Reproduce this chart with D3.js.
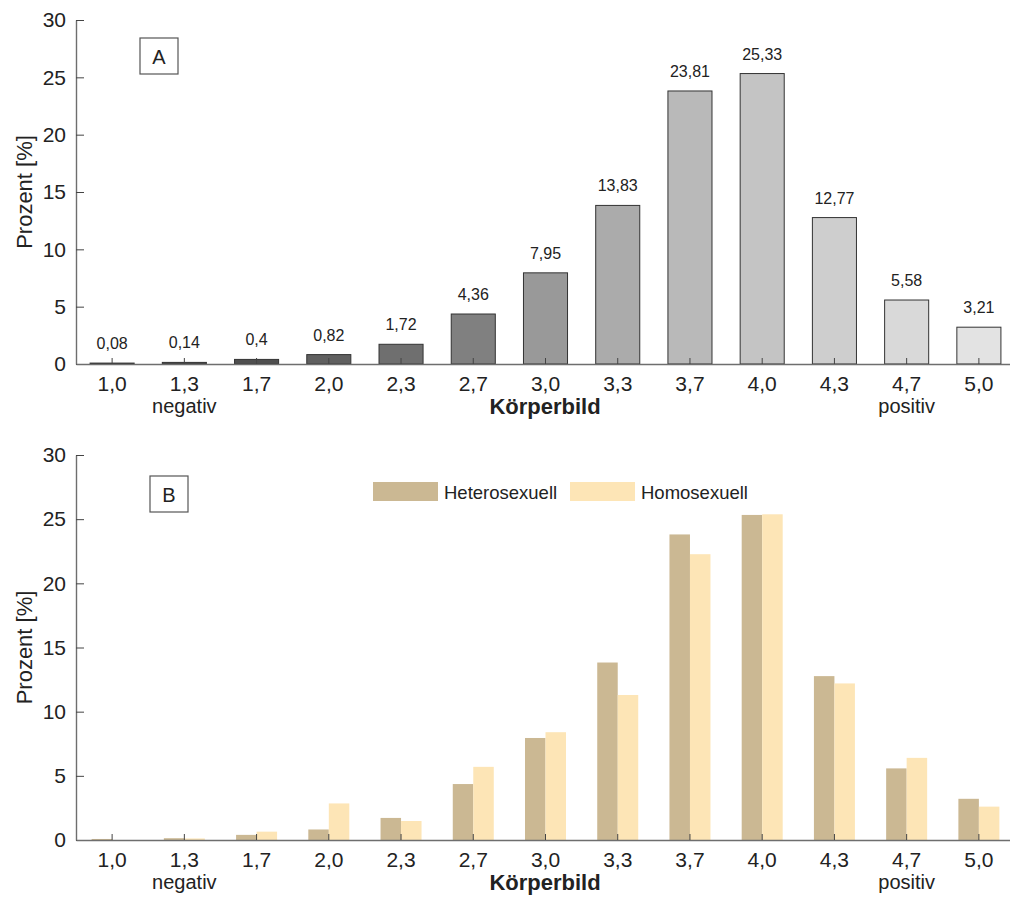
<!DOCTYPE html>
<html>
<head>
<meta charset="utf-8">
<script src="https://cdn.jsdelivr.net/npm/d3@7"></script>
<style>
  body { margin: 0; background: #fff; }
  text { font-family: "Liberation Sans", Arial, sans-serif; fill: #222; }
</style>
</head>
<body>
<div id="chart"></div>
<script>
const categories = ["1,0", "1,3", "1,7", "2,0", "2,3", "2,7", "3,0", "3,3", "3,7", "4,0", "4,3", "4,7", "5,0"];
const totalValues = [0.08, 0.14, 0.4, 0.82, 1.72, 4.36, 7.95, 13.83, 23.81, 25.33, 12.77, 5.58, 3.21];
const heteroValues = [0.08, 0.14, 0.4, 0.82, 1.72, 4.36, 7.95, 13.83, 23.81, 25.33, 12.77, 5.58, 3.21];
const homoValues = [0, 0.12, 0.65, 2.85, 1.48, 5.7, 8.4, 11.3, 22.27, 25.38, 12.2, 6.4, 2.6];
const greys = ["#4a4a4a", "#4a4a4a", "#4f4f4f", "#606060", "#6f6f6f", "#808080", "#999999", "#ababab", "#b9b9b9", "#c4c4c4", "#cecece", "#d9d9d9", "#e3e3e3"];
const seriesNames = ["Heterosexuell", "Homosexuell"];
const seriesColors = ["#cbb893", "#fde5b6"];
const yTicks = [0, 5, 10, 15, 20, 25, 30];

const width = 1010, height = 909;
const svg = d3.select("#chart").append("svg")
    .attr("width", width)
    .attr("height", height);

const x = d3.scaleBand()
    .domain(categories)
    .range([76, 1015])
    .paddingInner(0.39)
    .paddingOuter(0.195);

const fmt = v => String(v).replace(".", ",");

function drawAxes(y, label) {
    const g = svg.append("g");
    const yAxis = g.append("g")
        .attr("transform", `translate(${x.range()[0]},0)`)
        .call(d3.axisLeft(y).tickValues(yTicks).tickSize(-8).tickSizeOuter(0).tickPadding(10));
    const xAxis = g.append("g")
        .attr("transform", `translate(0,${y(0)})`)
        .call(d3.axisBottom(x).tickSize(-6).tickSizeOuter(0).tickPadding(12));
    [yAxis, xAxis].forEach(a => {
        a.select(".domain").attr("stroke", "#6e6e6e").attr("stroke-width", 1.4);
        a.selectAll(".tick line").attr("stroke", "#444");
        a.selectAll("text").attr("font-size", 21).attr("fill", "#333")
            .attr("font-family", "Liberation Sans, Arial, sans-serif");
    });
    const y0 = y(0);
    g.append("text").attr("x", x("1,3") + x.bandwidth() / 2).attr("y", y0 + 49)
        .attr("text-anchor", "middle").attr("font-size", 20).text("negativ");
    g.append("text").attr("x", x("4,7") + x.bandwidth() / 2).attr("y", y0 + 49)
        .attr("text-anchor", "middle").attr("font-size", 20).text("positiv");
    g.append("text").attr("x", 545).attr("y", y0 + 50)
        .attr("text-anchor", "middle").attr("font-size", 22).attr("font-weight", "bold").text("Körperbild");
    const cy = (y(30) + y(0)) / 2;
    g.append("text").attr("transform", `translate(32,${cy}) rotate(-90)`)
        .attr("text-anchor", "middle").attr("font-size", 22).text("Prozent [%]");
    // panel letter box
    const bx = label === "A" ? 140 : 150, by = label === "A" ? 38 : 476;
    g.append("rect").attr("x", bx).attr("y", by).attr("width", 38).attr("height", 36)
        .attr("fill", "#fff").attr("stroke", "#555").attr("stroke-width", 1.2);
    g.append("text").attr("x", bx + 19).attr("y", by + 26).attr("text-anchor", "middle")
        .attr("font-size", 20).text(label);
}

// Panel A
const yA = d3.scaleLinear().domain([0, 30]).range([364, 20]);
svg.append("g").selectAll("rect")
    .data(totalValues)
    .join("rect")
    .attr("x", (d, i) => x(categories[i]))
    .attr("y", d => yA(d))
    .attr("width", x.bandwidth())
    .attr("height", d => yA(0) - yA(d))
    .attr("fill", (d, i) => greys[i])
    .attr("stroke", "#333")
    .attr("stroke-width", 1);
svg.append("g").selectAll("text")
    .data(totalValues)
    .join("text")
    .attr("x", (d, i) => x(categories[i]) + x.bandwidth() / 2)
    .attr("y", d => yA(d) - 14)
    .attr("text-anchor", "middle")
    .attr("font-size", 16)
    .text(d => fmt(d));
drawAxes(yA, "A");

// Panel B
const yB = d3.scaleLinear().domain([0, 30]).range([840, 455]);
const xSub = d3.scaleBand().domain(seriesNames).range([0, 41]);
const offB = (x.bandwidth() - 41) / 2;
const groups = svg.append("g").selectAll("g")
    .data(categories)
    .join("g")
    .attr("transform", c => `translate(${x(c) + offB},0)`);
groups.selectAll("rect")
    .data((c, i) => [heteroValues[i], homoValues[i]].map((v, k) => ({ v, k })))
    .join("rect")
    .attr("x", d => xSub(seriesNames[d.k]))
    .attr("y", d => yB(d.v))
    .attr("width", xSub.bandwidth())
    .attr("height", d => yB(0) - yB(d.v))
    .attr("fill", d => seriesColors[d.k]);
drawAxes(yB, "B");

// Legend
const legendX = [373, 570];
seriesNames.forEach((name, k) => {
    svg.append("rect").attr("x", legendX[k]).attr("y", 482).attr("width", 65).attr("height", 19)
        .attr("fill", seriesColors[k]);
    svg.append("text").attr("x", legendX[k] + 71).attr("y", 499)
        .attr("font-size", 18.5).text(name);
});
</script>
</body>
</html>
